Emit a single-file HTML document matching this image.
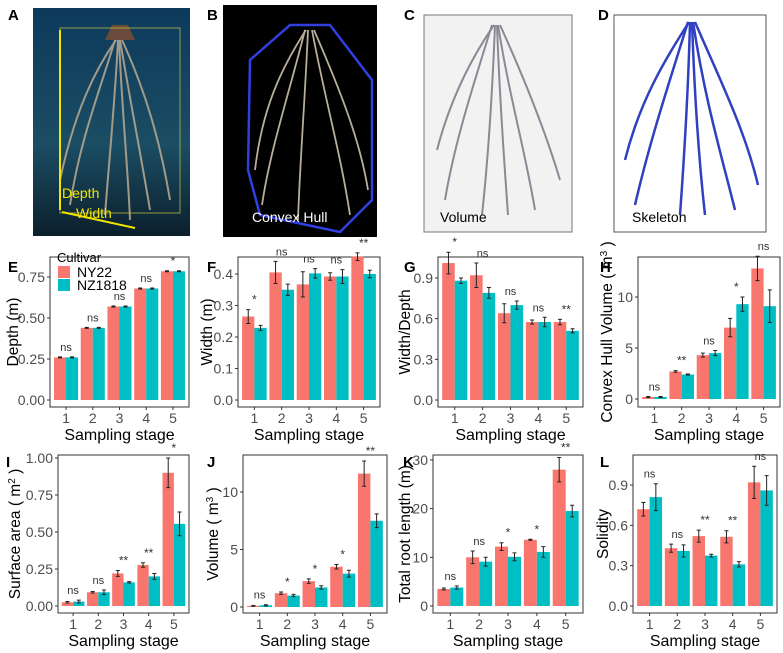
<!DOCTYPE html>
<html><head><meta charset="utf-8"><style>
body{margin:0;background:#fff;font-family:"Liberation Sans",Arial,sans-serif;}
svg{display:block}
</style></head><body>
<svg id="fig" width="783" height="653" viewBox="0 0 783 653" xmlns="http://www.w3.org/2000/svg">
<defs>
<linearGradient id="gA" x1="0" y1="0" x2="0" y2="1"><stop offset="0" stop-color="#0d3a5c"/><stop offset="0.6" stop-color="#1b4d63"/><stop offset="1" stop-color="#0b1f2c"/></linearGradient>
</defs>
<g id="photos">
  <rect x="33" y="8" width="157" height="228" fill="url(#gA)"/>
  <g stroke="#b9ab92" stroke-width="2" fill="none" opacity="0.85">
    <path d="M115 40 C100 90 80 140 70 205"/><path d="M118 40 C115 100 110 150 105 215"/><path d="M120 40 C130 100 140 150 150 210"/><path d="M122 40 C145 90 160 140 170 200"/><path d="M116 40 C95 70 75 110 60 180"/><path d="M119 40 C122 110 128 170 130 220"/>
  </g>
  <polygon points="105,40 135,40 128,25 112,25" fill="#6a4a3a"/>
  <rect x="60" y="28" width="120" height="185" fill="none" stroke="#c8c840" stroke-width="1" opacity="0.7"/>
  <line x1="60" y1="30" x2="60" y2="210" stroke="#f2e600" stroke-width="2"/>
  <line x1="62" y1="212" x2="135" y2="228" stroke="#f2e600" stroke-width="2"/>
  <text x="62" y="198" fill="#f2e600" font-size="14">Depth</text>
  <text x="76" y="218" fill="#f2e600" font-size="14">Width</text>

  <rect x="223" y="5" width="154" height="232" fill="#000"/>
  <polygon points="290,25 330,25 372,80 372,200 340,232 260,215 248,170 250,60" fill="none" stroke="#3040e0" stroke-width="2.5"/>
  <g stroke="#b8ae9a" stroke-width="1.8" fill="none">
    <path d="M305 30 C290 90 270 150 262 205"/><path d="M308 30 C305 100 300 160 298 220"/><path d="M312 30 C325 100 340 150 350 215"/><path d="M314 30 C340 90 360 140 368 190"/><path d="M306 30 C280 70 262 110 255 170"/>
  </g>
  <text x="252" y="222" fill="#fff" font-size="14">Convex Hull</text>

  <rect x="424" y="15" width="148" height="217" fill="#f2f2f2" stroke="#777"/>
  <g stroke="#8a8a96" stroke-width="2" fill="none">
    <path d="M492 25 C475 80 455 140 445 200"/><path d="M495 25 C492 100 488 160 482 215"/><path d="M498 25 C510 100 525 150 535 210"/><path d="M500 25 C525 80 545 130 560 180"/><path d="M494 25 C470 60 450 100 437 150"/><path d="M497 25 C500 110 505 170 508 215"/>
  </g>
  <text x="440" y="222" fill="#000" font-size="14">Volume</text>

  <rect x="614" y="15" width="152" height="217" fill="#fff" stroke="#555"/>
  <g stroke="#3040c0" stroke-width="2.5" fill="none">
    <path d="M688 22 C670 80 650 140 635 205"/><path d="M690 22 C688 100 684 160 680 215"/><path d="M693 22 C705 100 720 150 735 210"/><path d="M695 22 C720 80 745 130 758 185"/><path d="M689 22 C665 60 640 100 625 160"/><path d="M692 22 C695 110 700 170 705 215"/>
  </g>
  <text x="632" y="222" fill="#000" font-size="14">Skeleton</text>
</g>
<g font-weight="bold" font-size="15" fill="#000">
  <text x="8" y="20">A</text>
  <text x="207" y="20">B</text>
  <text x="404" y="20">C</text>
  <text x="598" y="20">D</text>
  <text x="8" y="272">E</text>
  <text x="207" y="272">F</text>
  <text x="404" y="272">G</text>
  <text x="600" y="272">H</text>
  <text x="6" y="467">I</text>
  <text x="207" y="467">J</text>
  <text x="403" y="467">K</text>
  <text x="600" y="467">L</text>
</g>
</svg>
<script>
const stages = ["1","2","3","4","5"];
const depthNY = [0.26,0.44,0.57,0.68,0.785];
const depthNZ = [0.26,0.44,0.57,0.68,0.785];
const depthErrNY = [0.003,0.003,0.003,0.003,0.003];
const depthErrNZ = [0.003,0.003,0.003,0.003,0.003];
const depthSig = ["ns","ns","ns","ns","*"];
const depthTicks = [0,0.25,0.5,0.75];
const depthTickLabels = ["0.00","0.25","0.50","0.75"];
const widthNY = [0.265,0.405,0.367,0.392,0.455];
const widthNZ = [0.229,0.35,0.402,0.392,0.4];
const widthErrNY = [0.022,0.035,0.04,0.012,0.012];
const widthErrNZ = [0.008,0.018,0.015,0.022,0.012];
const widthSig = ["*","ns","ns","ns","**"];
const widthTicks = [0,0.1,0.2,0.3,0.4];
const widthTickLabels = ["0.0","0.1","0.2","0.3","0.4"];
const wdNY = [1.01,0.92,0.64,0.575,0.575];
const wdNZ = [0.88,0.79,0.70,0.575,0.51];
const wdErrNY = [0.08,0.09,0.07,0.015,0.02];
const wdErrNZ = [0.02,0.04,0.03,0.035,0.015];
const wdSig = ["*","ns","ns","ns","**"];
const wdTicks = [0,0.3,0.6,0.9];
const wdTickLabels = ["0.0","0.3","0.6","0.9"];
const hullNY = [0.2,2.7,4.3,7.0,12.8];
const hullNZ = [0.2,2.4,4.5,9.3,9.1];
const hullErrNY = [0.05,0.08,0.2,0.9,1.2];
const hullErrNZ = [0.05,0.05,0.25,0.7,1.6];
const hullSig = ["ns","**","ns","*","ns"];
const hullTicks = [0,5,10];
const hullTickLabels = ["0","5","10"];
const areaNY = [0.025,0.093,0.22,0.277,0.9];
const areaNZ = [0.03,0.093,0.16,0.2,0.555];
const areaErrNY = [0.005,0.005,0.02,0.015,0.1];
const areaErrNZ = [0.01,0.015,0.005,0.02,0.08];
const areaSig = ["ns","ns","**","**","*"];
const areaTicks = [0,0.25,0.5,0.75,1];
const areaTickLabels = ["0.00","0.25","0.50","0.75","1.00"];
const volNY = [0.1,1.2,2.25,3.5,11.6];
const volNZ = [0.15,1.0,1.7,2.9,7.5];
const volErrNY = [0.03,0.1,0.2,0.2,1.1];
const volErrNZ = [0.05,0.1,0.15,0.3,0.6];
const volSig = ["ns","*","*","*","**"];
const volTicks = [0,5,10];
const volTickLabels = ["0","5","10"];
const lenNY = [3.5,10,12.2,13.6,28];
const lenNZ = [3.8,9.1,10.1,11.1,19.5];
const lenErrNY = [0.2,1.3,0.8,0.1,2.5];
const lenErrNZ = [0.3,0.9,0.8,1.1,1.2];
const lenSig = ["ns","ns","*","*","**"];
const lenTicks = [0,10,20,30];
const lenTickLabels = ["0","10","20","30"];
const solNY = [0.72,0.43,0.52,0.515,0.92];
const solNZ = [0.81,0.41,0.375,0.31,0.86];
const solErrNY = [0.05,0.03,0.045,0.045,0.12];
const solErrNZ = [0.1,0.045,0.01,0.02,0.11];
const solSig = ["ns","ns","**","**","ns"];
const solTicks = [0,0.3,0.6,0.9];
const solTickLabels = ["0.0","0.3","0.6","0.9"];

const NS = "http://www.w3.org/2000/svg";
const fig = document.getElementById("fig");
function mk(tag, attrs, parent){const e=document.createElementNS(NS,tag);for(const k in attrs)e.setAttribute(k,attrs[k]);parent.appendChild(e);return e;}

function panel(id, box, zeroY, unitPx, ny, nz, eny, enz, sig, ticks, tickLabels, title, sup, titleOff){
  const g = mk("g",{},fig);
  
  
  const y = v => zeroY - v*unitPx;
  const w = box.x1-box.x0;
  const x = i => box.x0 + (i+0.6)/5.2*w;
  const bw = 0.45/5.2*w;
  const frame = mk("rect",{x:box.x0,y:box.y0,width:w,height:box.y1-box.y0,fill:"#fff",stroke:"#333","stroke-width":1},g);
  
  
  ticks.forEach((t,k)=>{
    const ty=y(t);
    const tl=mk("line",{x1:box.x0-3,x2:box.x0,y1:ty,y2:ty,stroke:"#333"},g);
    
    
    const tx=mk("text",{x:box.x0-5,y:ty+5,"text-anchor":"end","font-size":14,fill:"#4d4d4d"},g);
    tx.textContent=tickLabels[k];
    
    
  });
  stages.forEach((s,i)=>{
    const cx=x(i);
    [[ny[i],eny[i],"#F8766D",cx-bw],[nz[i],enz[i],"#00BFC4",cx]].forEach((d,j)=>{
      const r=mk("rect",{x:d[3],y:y(d[0]),width:bw,height:zeroY-y(d[0]),fill:d[2]},g);
      
      
      const ex=d[3]+bw/2, top=y(d[0]+d[1]), bot=y(d[0]-d[1]);
      const eb=mk("path",{d:`M${ex-2} ${top}H${ex+2}M${ex} ${top}V${bot}M${ex-2} ${bot}H${ex+2}`,stroke:"#222","stroke-width":1,fill:"none"},g);
      
      
    });
    const mx=Math.max(ny[i]+eny[i],nz[i]+enz[i]);
    const st=mk("text",{x:cx,y:y(mx)-6,"text-anchor":"middle","font-size":sig[i]==="ns"?11:12,fill:"#333"},g);
    st.textContent=sig[i];
    
    
    const xt=mk("line",{x1:cx,x2:cx,y1:box.y1,y2:box.y1+3,stroke:"#333"},g);
    
    
    const xl=mk("text",{x:cx,y:box.y1+16,"text-anchor":"middle","font-size":14,fill:"#4d4d4d"},g);
    xl.textContent=s;
    
    
  });
  const xtt=mk("text",{x:(box.x0+box.x1)/2,y:box.y1+33,"text-anchor":"middle","font-size":16,fill:"#000"},g);
  xtt.textContent="Sampling stage";
  
  
  const cy=(box.y0+box.y1)/2, tx=box.x0-titleOff+5;
  const yt=mk("text",{x:tx,y:cy,"text-anchor":"middle","font-size":15.5,fill:"#000",transform:`rotate(-90 ${tx} ${cy})`},g);
  yt.textContent=title;
  if(sup){const ts=mk("tspan",{"baseline-shift":"super","font-size":10},yt);ts.textContent=sup;const t2=mk("tspan",{},yt);t2.textContent=" )";}
  
  
  return g;
}
panel("depth-chart",{x0:50,x1:189,y0:257,y1:407},400,164,depthNY,depthNZ,depthErrNY,depthErrNZ,depthSig,depthTicks,depthTickLabels,"Depth (m)",null,37);
panel("width-chart",{x0:238,x1:380,y0:257,y1:407},400,315,widthNY,widthNZ,widthErrNY,widthErrNZ,widthSig,widthTicks,widthTickLabels,"Width (m)",null,31);
panel("width-depth-chart",{x0:438,x1:583,y0:257,y1:407},400,135.6,wdNY,wdNZ,wdErrNY,wdErrNZ,wdSig,wdTicks,wdTickLabels,"Width/Depth",null,33);
panel("convex-hull-chart",{x0:638,x1:780,y0:257,y1:407},399,10.2,hullNY,hullNZ,hullErrNY,hullErrNZ,hullSig,hullTicks,hullTickLabels,"Convex Hull Volume ( m","3",31);
panel("surface-area-chart",{x0:58,x1:189,y0:455,y1:613},606,148,areaNY,areaNZ,areaErrNY,areaErrNZ,areaSig,areaTicks,areaTickLabels,"Surface area ( m","2",43);
panel("volume-chart",{x0:243,x1:387,y0:455,y1:613},607,11.5,volNY,volNZ,volErrNY,volErrNZ,volSig,volTicks,volTickLabels,"Volume ( m","3",30);
panel("root-length-chart",{x0:433,x1:583,y0:455,y1:613},606,4.87,lenNY,lenNZ,lenErrNY,lenErrNZ,lenSig,lenTicks,lenTickLabels,"Total root length (m)",null,28);
panel("solidity-chart",{x0:633,x1:777,y0:455,y1:613},606,134.4,solNY,solNZ,solErrNY,solErrNZ,solSig,solTicks,solTickLabels,"Solidity",null,30);
// legend
const lg=mk("g",{},fig);


const lt=mk("text",{x:57,y:262,"font-size":13,fill:"#000"},lg);lt.textContent="Cultivar";


[["NY22","#F8766D",266],["NZ1818","#00BFC4",279]].forEach(d=>{
  const r=mk("rect",{x:58,y:d[2],width:12,height:12,fill:d[1]},lg);
  
  
  const t=mk("text",{x:77,y:d[2]+11,"font-size":14,fill:"#000"},lg);t.textContent=d[0];
  
  
});
</script>
</body></html>
